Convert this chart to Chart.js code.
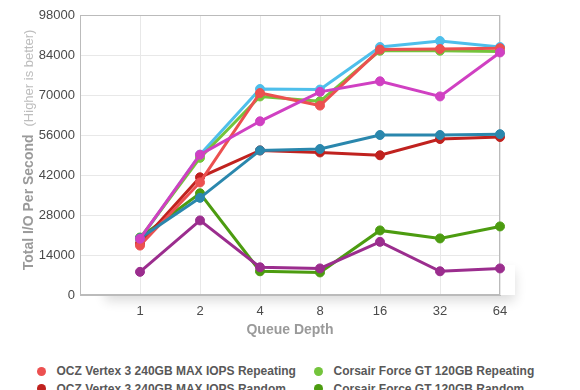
<!DOCTYPE html>
<html>
<head>
<meta charset="utf-8">
<script src="https://cdn.jsdelivr.net/npm/chart.js@4/dist/chart.umd.min.js"></script>
<style>
  body { margin: 0; background: #fff; width: 580px; height: 390px; overflow: hidden; position: relative; font-family: "Liberation Sans", Arial, sans-serif; }
  #wrap { position: absolute; left: 0; top: 0; width: 580px; height: 345px; }
  .item { position: absolute; height: 18px; display: flex; align-items: center; font-size: 12px; font-weight: bold; color: #585858; white-space: nowrap; }
  .dot { width: 9px; height: 9px; border-radius: 50%; margin-right: 11px; flex: none; }
</style>
</head>
<body>
<div id="wrap"><canvas id="chart" width="580" height="345"></canvas></div>
<div id="legend"></div>
<script>
// Data
const depths = ['1', '2', '4', '8', '16', '32', '64'];
const yTicks = [0, 14000, 28000, 42000, 56000, 70000, 84000, 98000];

const seriesNames = [
  'OCZ Vertex 3 240GB MAX IOPS Repeating',
  'Corsair Force GT 120GB Repeating',
  'OCZ Vertex 3 240GB MAX IOPS Random',
  'Corsair Force GT 120GB Random',
  'OCZ Vertex 3 240GB Repeating',
  'Intel SSD 510 250GB Repeating',
  'OCZ Vertex 3 240GB Random',
  'Intel SSD 510 250GB Random'
];
const seriesColors = ['#ec5050', '#74c43c', '#c0221f', '#4c9c10', '#4ebfeb', '#d040c2', '#2a87ad', '#9b2d8e'];

const oczMaxRepeating = [17300, 39400, 70700, 66300, 85900, 86100, 86400];
const corsairRepeating = [19900, 48000, 69500, 67800, 85500, 85500, 85200];
const oczMaxRandom = [18000, 41200, 50600, 49900, 48900, 54600, 55300];
const corsairRandom = [20100, 35600, 8300, 7900, 22600, 19800, 24000];
const oczRepeating = [19500, 49100, 72100, 71900, 86800, 88900, 86800];
const intelRepeating = [19700, 49100, 60800, 71100, 74800, 69500, 84900];
const oczRandom = [19900, 34000, 50600, 51100, 56000, 56000, 56300];
const intelRandom = [8100, 26100, 9700, 9300, 18600, 8300, 9300];

const seriesValues = [oczMaxRepeating, corsairRepeating, oczMaxRandom, corsairRandom,
                      oczRepeating, intelRepeating, oczRandom, intelRandom];

// draw order: higher "order" is drawn first (underneath)
const drawOrder = [3, 4, 5, 6, 7, 0, 2, 1];

Chart.defaults.font.family = '"Liberation Sans", Arial, sans-serif';

// Frame, shadow and axis titles
const framePlugin = {
  id: 'frame',
  beforeDraw(chart) {
    const { ctx, chartArea: a } = chart;
    ctx.save();
    ctx.shadowColor = 'rgba(0,0,0,0.14)';
    ctx.shadowBlur = 12;
    ctx.shadowOffsetY = 6;
    ctx.fillStyle = '#fff';
    ctx.fillRect(a.left + 25, a.bottom - 30, a.right - a.left - 10, 30);
    ctx.restore();
    ctx.fillStyle = '#fff';
    ctx.fillRect(a.left, a.top, a.right - a.left, a.bottom - a.top);
  },
  beforeDatasetsDraw(chart) {
    const { ctx, chartArea: a } = chart;
    ctx.save();
    ctx.strokeStyle = '#bbb';
    ctx.lineWidth = 1;
    ctx.strokeRect(Math.round(a.left) + 0.5, Math.round(a.top) + 0.5,
                   Math.round(a.right - a.left) - 1, Math.round(a.bottom - a.top) - 1);
    ctx.restore();
  },
  afterDraw(chart) {
    const { ctx, chartArea: a } = chart;
    ctx.save();
    // x title
    ctx.font = 'bold 14px "Liberation Sans", Arial, sans-serif';
    ctx.fillStyle = '#9a9a9a';
    ctx.textAlign = 'center';
    ctx.textBaseline = 'middle';
    ctx.fillText('Queue Depth', (a.left + a.right) / 2, 330);
    // y title, two parts
    const t1 = 'Total I/O Per Second', t2 = '(Higher is better)';
    const f1 = 'bold 14px "Liberation Sans", Arial, sans-serif';
    const f2 = '13px "Liberation Sans", Arial, sans-serif';
    ctx.font = f1;
    const w1 = ctx.measureText(t1).width;
    ctx.font = f2;
    const w2 = ctx.measureText(t2).width;
    const gap = 8, center = 150;
    const start = -(center + (w1 + gap + w2) / 2);
    ctx.translate(33, 0);
    ctx.rotate(-Math.PI / 2);
    ctx.textAlign = 'left';
    ctx.textBaseline = 'alphabetic';
    ctx.font = f1;
    ctx.fillStyle = '#9a9a9a';
    ctx.fillText(t1, start, 0);
    ctx.font = f2;
    ctx.fillStyle = '#bdbdbd';
    ctx.fillText(t2, start + w1 + gap, 0);
    ctx.restore();
  }
};

const datasets = seriesNames.map((name, i) => ({
  label: name,
  data: seriesValues[i].map((v, j) => ({ x: j + 1, y: v })),
  borderColor: seriesColors[i],
  backgroundColor: seriesColors[i],
  pointBackgroundColor: seriesColors[i],
  pointBorderColor: seriesColors[i],
  borderWidth: 3,
  pointRadius: 4.5,
  pointBorderWidth: 1,
  tension: 0,
  clip: false,
  order: drawOrder[i]
}));

new Chart(document.getElementById('chart'), {
  type: 'line',
  data: { datasets },
  plugins: [framePlugin],
  options: {
    responsive: false,
    animation: false,
    layout: { padding: { top: 15, right: 80, left: 0, bottom: 0 } },
    plugins: {
      legend: { display: false },
      tooltip: { enabled: false }
    },
    scales: {
      x: {
        type: 'linear',
        min: 0,
        max: 7,
        afterFit(s) { s.height = 50; },
        ticks: {
          stepSize: 1,
          autoSkip: false,
          maxRotation: 0,
          padding: 9,
          color: '#4a4a4a',
          font: { size: 13 },
          callback: v => (v === 0 ? '' : depths[v - 1])
        },
        grid: { color: '#e8e8e8', drawTicks: false },
        border: { color: '#bbb' }
      },
      y: {
        min: yTicks[0],
        max: yTicks[yTicks.length - 1],
        afterFit(s) { s.width = 80; },
        afterBuildTicks(s) { s.ticks = yTicks.map(v => ({ value: v })); },
        ticks: {
          padding: 5,
          color: '#4a4a4a',
          font: { size: 13 },
          callback: v => String(v)
        },
        grid: { color: '#e8e8e8', drawTicks: false },
        border: { color: '#bbb' }
      }
    }
  }
});

// Legend (two columns)
const legend = document.getElementById('legend');
seriesNames.forEach((name, i) => {
  const item = document.createElement('div');
  item.className = 'item';
  item.style.left = (i % 2 === 0 ? 36.5 : 313.5) + 'px';
  item.style.top = (362 + Math.floor(i / 2) * 17.5) + 'px';
  item.innerHTML = '<span class="dot" style="background:' + seriesColors[i] + '"></span>' + name;
  legend.appendChild(item);
});
</script>
</body>
</html>
